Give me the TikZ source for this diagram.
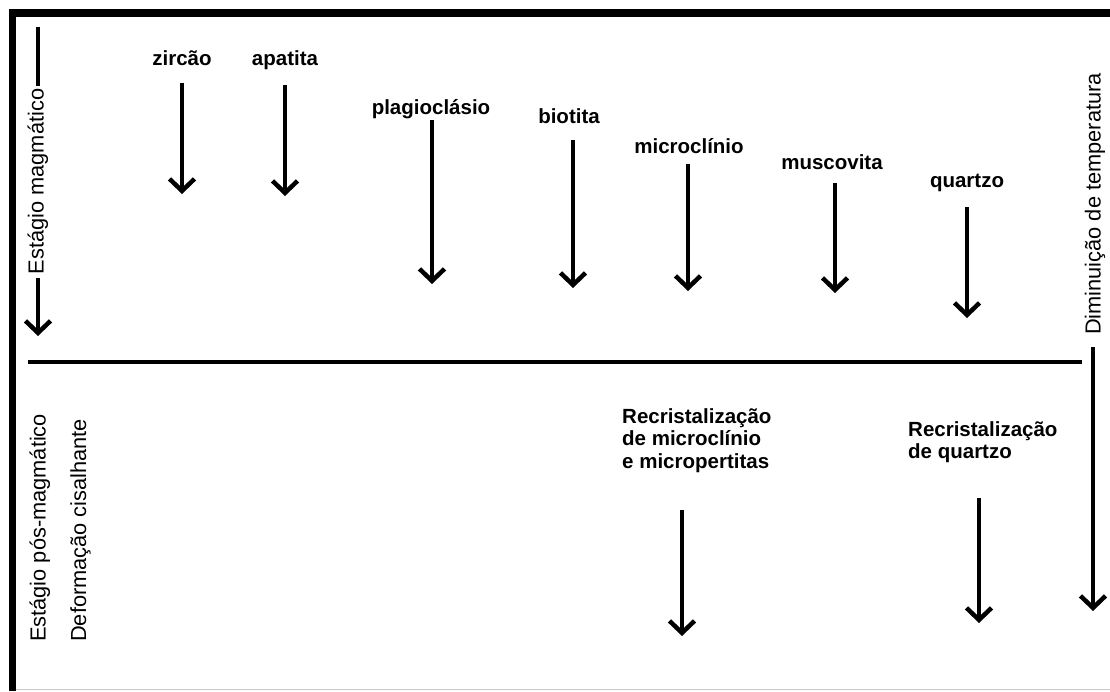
\documentclass[tikz,border=0pt]{standalone}
\usepackage{fontspec}
\setmainfont{Liberation Sans}
\usetikzlibrary{arrows.meta}
\begin{document}
\begin{tikzpicture}[x=1pt,y=-1pt,
  lbl/.style={font=\bfseries\fontsize{20.5}{22.5}\selectfont, inner sep=0pt, anchor=base},
  mlbl/.style={font=\bfseries\fontsize{20.5}{22.5}\selectfont, inner sep=0pt, anchor=north west, align=left},
  rlbl/.style={font=\fontsize{21.8}{25}\selectfont, rotate=90, inner sep=0pt},
  shaft/.style={line width=4pt},
  arr/.style={line width=4pt, -{Straight Barb[length=12pt,width=25pt,line width=4.5pt]}},
  frame/.style={fill=black}
]
\useasboundingbox (0,0) rectangle (1110,691);
% frame
\fill[frame] (9,9) rectangle (1110,17);
\fill[frame] (9,9) rectangle (16,691);
\draw[black!22, line width=1.5pt] (16,689.5) -- (1110,689.5);
% divider
\coordinate (divl) at (28,362);
\coordinate (divr) at (1082,362);
\draw[line width=4pt] (divl) -- (divr);

% magmatic minerals
\node[lbl] (zir) at (182,65) {zircão};
\node[lbl] (apa) at (285,65) {apatita};
\node[lbl] (pla) at (431,114) {plagioclásio};
\node[lbl] (bio) at (569,123) {biotita};
\node[lbl] (mic) at (689,153) {microclínio};
\node[lbl] (mus) at (832,169) {muscovita};
\node[lbl] (qtz) at (967,187) {quartzo};

\coordinate (zirA) at (182,83);  \coordinate (zirB) at (182,194);
\coordinate (apaA) at (285,85);  \coordinate (apaB) at (285,196);
\coordinate (plaA) at (432,120); \coordinate (plaB) at (432,284);
\coordinate (bioA) at (573,140); \coordinate (bioB) at (573,288);
\coordinate (micA) at (688,164); \coordinate (micB) at (688,291);
\coordinate (musA) at (835,183); \coordinate (musB) at (835,293);
\coordinate (qtzA) at (967,207); \coordinate (qtzB) at (967,318);
\draw[arr] (zirA) -- (zirB);
\draw[arr] (apaA) -- (apaB);
\draw[arr] (plaA) -- (plaB);
\draw[arr] (bioA) -- (bioB);
\draw[arr] (micA) -- (micB);
\draw[arr] (musA) -- (musB);
\draw[arr] (qtzA) -- (qtzB);

% post-magmatic
\node[mlbl] (rmic) at (622,408) {Recristalização\\de microclínio\\e micropertitas};
\node[mlbl] (rqtz) at (908,421) {Recristalização\\de quartzo};
\coordinate (rmicA) at (682,510); \coordinate (rmicB) at (682,636);
\coordinate (rqtzA) at (979,498); \coordinate (rqtzB) at (979,623);
\draw[arr] (rmicA) -- (rmicB);
\draw[arr] (rqtzA) -- (rqtzB);

% left stage labels
\node[rlbl, anchor=base] (mag) at (43.5,181.5) {Estágio magmático};
\coordinate (magtop) at (38,27);
\coordinate (magtip) at (38,336);
\draw[shaft, shorten >=3pt] (magtop) -- (magtop |- mag.east);
\draw[arr, shorten <=4pt] (magtip |- mag.west) -- (magtip);

\node[rlbl, anchor=base west] (post) at (45.5,642) {Estágio pós-magmático};
\node[rlbl, anchor=base west] (def) at (86,642) {Deformação cisalhante};

% right temperature label
\node[rlbl, anchor=base] (temp) at (1100.5,204) {Diminuição de temperatura};
\coordinate (ttip) at (1093,611);
\draw[arr, shorten <=12pt] (ttip |- temp.west) -- (ttip);
\end{tikzpicture}
\end{document}
